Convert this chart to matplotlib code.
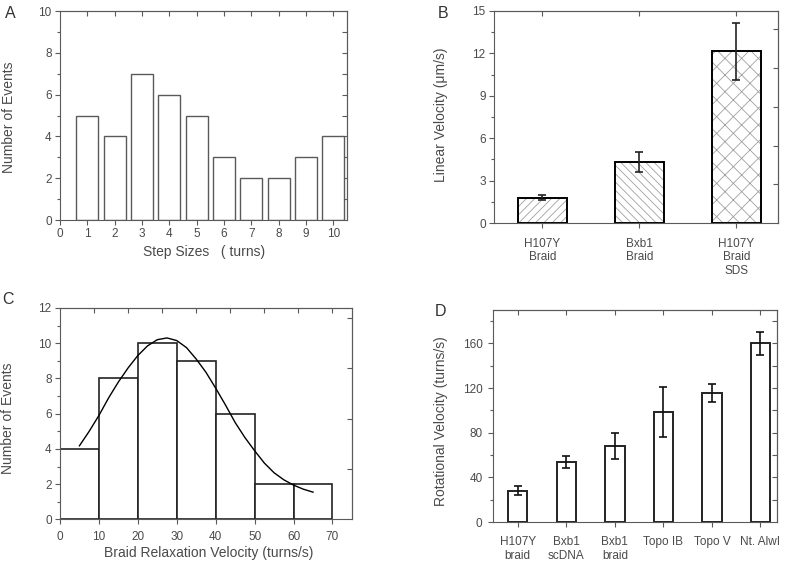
import matplotlib
matplotlib.use('Agg')
import matplotlib.pyplot as plt

plt.rcParams['font.family'] = ['Liberation Sans', 'DejaVu Sans']
plt.rcParams['hatch.linewidth'] = 0.6

GREY = '#5a5a5a'
TXT = '#4a4a4a'

# --- A: step size histogram
step_sizes = [1, 2, 3, 4, 5, 6, 7, 8, 9, 10]
step_counts = [5, 4, 7, 6, 5, 3, 2, 2, 3, 4]

# --- B: linear velocity
lin_labels = ['H107Y\nBraid', 'Bxb1\nBraid', 'H107Y\nBraid\nSDS']
lin_vel = [1.8, 4.3, 12.15]
lin_err = [0.2, 0.72, 2.0]
lin_hatch = ['////', '\\\\\\\\', 'xx']

# --- C: braid relaxation velocity histogram + fit
relax_edges = [0, 10, 20, 30, 40, 50, 60, 70]
relax_counts = [4, 8, 10, 9, 6, 2, 2]
fit_x = [5, 7.5, 10, 12.5, 15, 17.5, 20, 22.5, 25, 27.5, 30, 32.5, 35,
         37.5, 40, 42.5, 45, 47.5, 50, 52.5, 55, 57.5, 60, 62.5, 65]
fit_y = [4.18, 5.0, 5.9, 6.9, 7.8, 8.6, 9.3, 9.85, 10.2, 10.3, 10.15, 9.75, 9.1,
         8.35, 7.45, 6.5, 5.5, 4.65, 3.9, 3.2, 2.65, 2.25, 1.95, 1.72, 1.55]

# --- D: rotational velocity
rot_labels = ['H107Y\nbraid', 'Bxb1\nscDNA', 'Bxb1\nbraid', 'Topo IB', 'Topo V', 'Nt. AlwI']
rot_vel = [28, 53.5, 68, 98.5, 115.5, 160]
rot_err = [4.2, 5.5, 11.4, 22.3, 7.9, 10.5]


def frame(ax, top_ticks, right_ticks, pad=2.5):
    for s in ax.spines.values():
        s.set_color(GREY)
        s.set_linewidth(0.8)
    ax.tick_params(which='major', direction='out', length=3.5, width=0.8,
                   color=GREY, labelcolor=TXT, labelsize=8.5, pad=pad)
    ax.tick_params(which='minor', direction='out', length=2, width=0.8, color=GREY)
    top = ax.secondary_xaxis('top')
    top.set_xticks(top_ticks)
    top.tick_params(direction='in', length=3.5, width=0.8, color=GREY, labeltop=False)
    top.spines['top'].set_color(GREY)
    top.spines['top'].set_linewidth(0.8)
    right = ax.secondary_yaxis('right')
    right.set_yticks(right_ticks)
    right.tick_params(direction='in', length=3.5, width=0.8, color=GREY, labelright=False)
    right.spines['right'].set_color(GREY)
    right.spines['right'].set_linewidth(0.8)


def labels(ax, xlabel, xpos, ylabel, ypos):
    if xlabel:
        ax.set_xlabel(xlabel, fontsize=10, color=TXT, va='center')
        ax.xaxis.set_label_coords(*xpos)
    ax.set_ylabel(ylabel, fontsize=10, color=TXT, va='center')
    ax.yaxis.set_label_coords(*ypos)


fig = plt.figure(figsize=(7.87, 5.63), dpi=100)

# A
axA = fig.add_axes([0.0762, 0.6092, 0.3647, 0.3712])
axA.bar(step_sizes, step_counts, width=0.8, color='white', edgecolor=GREY, linewidth=1.0)
axA.set_xlim(0, 10.5)
axA.set_ylim(0, 10)
axA.set_xticks(range(0, 11))
axA.set_yticks(range(0, 11, 2))
axA.set_yticks(range(1, 10, 2), minor=True)
frame(axA, range(1, 11), range(1, 10))
labels(axA, 'Step Sizes   ( turns)', (0.503, -0.152), 'Number of Events', (-0.176, 0.49))

# B
axB = fig.add_axes([0.6277, 0.6039, 0.3609, 0.3766])
xb = [1, 2, 3]
axB.bar(xb, lin_vel, width=0.5, color='white', edgecolor='#a0a0a0',
        hatch=lin_hatch, linewidth=0)
axB.bar(xb, lin_vel, width=0.5, fill=False, edgecolor='black', linewidth=1.4)
axB.errorbar(xb, lin_vel, yerr=lin_err, fmt='none', ecolor='#222222',
             elinewidth=1.2, capsize=3, capthick=1.2)
axB.set_xlim(0.5, 3.43)
axB.set_ylim(0, 15)
axB.set_xticks(xb)
axB.set_xticklabels(lin_labels, fontsize=7.5, linespacing=1.2, va='top')
axB.set_yticks(range(0, 16, 3))
axB.set_yticks([1.5, 4.5, 7.5, 10.5, 13.5], minor=True)
frame(axB, xb, [2.74, 5.48, 8.22, 10.96, 13.7])
axB.tick_params(axis='x', pad=7)
labels(axB, None, None, 'Linear Velocity (\u03bcm/s)', (-0.187, 0.51))

# C
axC = fig.add_axes([0.0762, 0.0773, 0.371, 0.3757])
axC.bar(relax_edges[:-1], relax_counts, width=10, align='edge', color='white',
        edgecolor='#222222', linewidth=1.2)
axC.plot(fit_x, fit_y, color='black', linewidth=1.0)
axC.set_xlim(0, 75)
axC.set_ylim(0, 12)
axC.set_xticks(range(0, 71, 10))
axC.set_yticks(range(0, 13, 2))
axC.set_yticks(range(1, 12, 2), minor=True)
frame(axC, [8.75, 17.5, 26.25, 35, 43.75, 52.5, 61.25, 70], [2.86, 5.72, 8.58, 11.45])
axC.tick_params(axis='x', pad=5)
labels(axC, 'Braid Relaxation Velocity (turns/s)', (0.508, -0.158),
       'Number of Events', (-0.178, 0.48))

# D
axD = fig.add_axes([0.6264, 0.0728, 0.3609, 0.3766])
xd = list(range(1, 7))
axD.bar(xd, rot_vel, width=0.4, color='white', edgecolor='#222222', linewidth=1.4)
axD.errorbar(xd, rot_vel, yerr=rot_err, fmt='none', ecolor='#111111',
             elinewidth=1.2, capsize=3, capthick=1.2)
axD.set_xlim(0.49, 6.34)
axD.set_ylim(0, 190)
axD.set_xticks(xd)
axD.set_xticklabels(rot_labels, fontsize=7.5, linespacing=1.2, va='top')
axD.set_yticks(range(0, 161, 40))
axD.set_yticks(range(20, 190, 40), minor=True)
frame(axD, xd, range(20, 190, 20), pad=4)
axD.tick_params(axis='x', pad=6.5)
labels(axD, None, None, 'Rotational Velocity (turns/s)', (-0.183, 0.474))

# panel letters
for letter, (px, py) in zip('ABCD', [(10, 13), (443, 13), (8, 299), (441, 311)]):
    fig.text(px / 787, 1 - py / 563, letter, fontsize=11.5, color='#333333',
             ha='center', va='center')

fig.savefig('out.png', dpi=100)
